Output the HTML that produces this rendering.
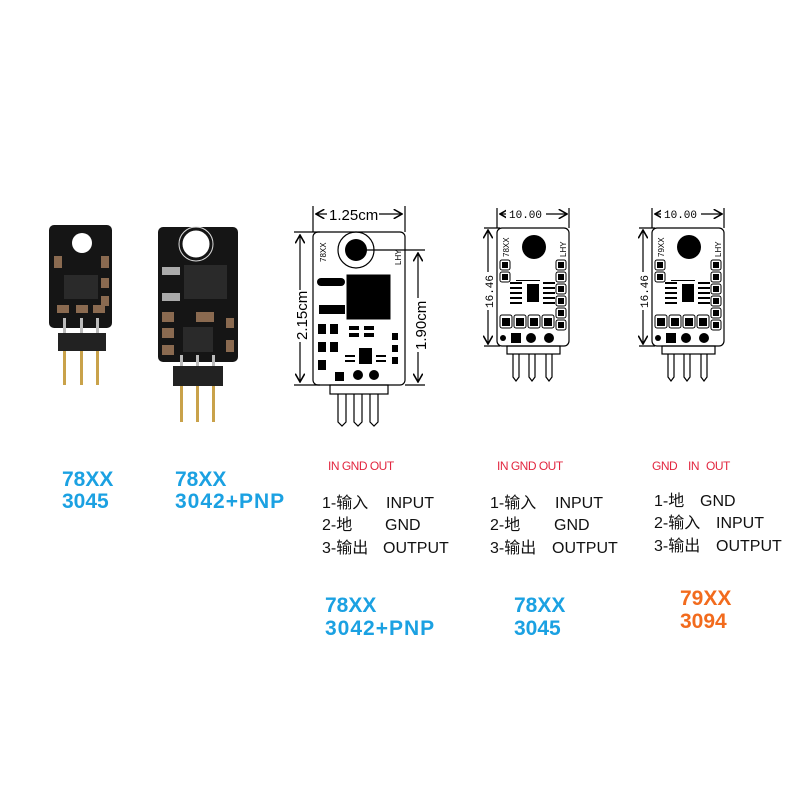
<!DOCTYPE html>
<html><head><style>
html,body{margin:0;padding:0;background:#fff;}
svg{display:block;}
.b{font-family:"Liberation Sans",sans-serif;font-weight:bold;fill:#1ba1e2;font-size:21px;}
.o{font-family:"Liberation Sans",sans-serif;font-weight:bold;fill:#f26b1d;font-size:21px;}
.r{font-family:"Liberation Sans",sans-serif;fill:#e2263f;font-size:12px;letter-spacing:-0.5px;}
.t{font-family:"Liberation Sans","Noto Sans CJK SC",sans-serif;fill:#111;font-size:16px;}
.d{font-family:"Liberation Sans",sans-serif;fill:#000;}
.m{font-family:"Liberation Mono",monospace;fill:#000;}
</style></head><body>
<svg width="800" height="800" viewBox="0 0 800 800" xmlns="http://www.w3.org/2000/svg">
<defs>
<marker id="a" markerWidth="8" markerHeight="8" refX="7" refY="4" orient="auto-start-reverse"><path d="M0,0 L7,4 L0,8" fill="none" stroke="#000" stroke-width="1.3"/></marker>
<g id="sm">
<g stroke="#000" fill="none" stroke-width="1.2">
<rect x="497" y="228" width="72" height="118" rx="5"/>
<rect x="507" y="346" width="53" height="8"/>
<path d="M513,354 v23 l3,4 l3,-4 v-23 M529,354 v23 l3,4 l3,-4 v-23 M546,354 v23 l3,4 l3,-4 v-23"/>
<path d="M497,228 V208 M569,228 V208 M484,228 H500 M484,346 H500"/>
<path d="M500,214 H567" marker-start="url(#a)" marker-end="url(#a)"/>
<path d="M488,230 V344" marker-start="url(#a)" marker-end="url(#a)"/>
<g stroke-width="1"><rect x="500" y="260" width="10" height="10" rx="2"/><rect x="500" y="272" width="10" height="10" rx="2"/><rect x="556" y="260" width="10" height="10" rx="2"/><rect x="556" y="272" width="10" height="10" rx="2"/><rect x="556" y="284" width="10" height="10" rx="2"/><rect x="556" y="296" width="10" height="10" rx="2"/><rect x="556" y="308" width="10" height="10" rx="2"/><rect x="556" y="320" width="10" height="10" rx="2"/><rect x="500" y="315" width="12" height="13" rx="2"/><rect x="514" y="315" width="12" height="13" rx="2"/><rect x="528" y="315" width="12" height="13" rx="2"/><rect x="542" y="315" width="12" height="13" rx="2"/></g>
</g>
<g fill="#000"><circle cx="534" cy="247" r="12"/><rect x="527" y="284" width="12" height="18"/>
<rect x="502" y="262" width="6" height="6"/><rect x="502" y="274" width="6" height="6"/><rect x="558" y="262" width="6" height="6"/><rect x="558" y="274" width="6" height="6"/><rect x="558" y="286" width="6" height="6"/><rect x="558" y="298" width="6" height="6"/><rect x="558" y="310" width="6" height="6"/><rect x="558" y="322" width="6" height="6"/>
<rect x="502" y="318" width="8" height="8"/><rect x="516" y="318" width="8" height="8"/><rect x="530" y="318" width="8" height="8"/><rect x="544" y="318" width="8" height="8"/>
<rect x="510" y="282" width="12" height="2"/><rect x="510" y="287" width="12" height="2"/><rect x="510" y="292" width="12" height="2"/><rect x="510" y="297" width="12" height="2"/><rect x="510" y="302" width="12" height="2"/>
<rect x="543" y="282" width="12" height="2"/><rect x="543" y="287" width="12" height="2"/><rect x="543" y="292" width="12" height="2"/><rect x="543" y="297" width="12" height="2"/><rect x="543" y="302" width="12" height="2"/>
<rect x="516" y="280" width="24" height="1"/>
<circle cx="503" cy="338" r="3"/><rect x="511" y="333" width="10" height="10"/><circle cx="531" cy="338" r="5"/><circle cx="549" cy="338" r="5"/></g>
<rect x="506" y="208" width="40" height="12" fill="#fff"/>
<text class="m" x="509" y="218" font-size="11">10.00</text>
<rect x="482" y="272" width="12" height="38" fill="#fff"/>
<text class="m" font-size="11" transform="translate(493,308) rotate(-90)">16.46</text>
<text class="d" font-size="8" transform="translate(566,257) rotate(-90)">LHY</text>
</g>
</defs>
<!-- PCB 1 black -->
<g>
<rect x="49" y="225" width="63" height="103" rx="5" fill="#151515"/>
<circle cx="82" cy="243" r="10" fill="#fff"/>
<rect x="64" y="275" width="34" height="24" fill="#2a2a2a"/>
<g fill="#8a6a50"><rect x="54" y="256" width="8" height="12"/><rect x="101" y="256" width="8" height="12"/><rect x="101" y="278" width="8" height="10"/><rect x="101" y="296" width="8" height="10"/><rect x="57" y="305" width="12" height="8"/><rect x="76" y="305" width="12" height="8"/><rect x="93" y="305" width="12" height="8"/></g>
<rect x="58" y="333" width="48" height="18" fill="#222"/>
<g fill="#c9a24a"><rect x="63" y="351" width="3" height="34"/><rect x="80" y="351" width="3" height="34"/><rect x="96" y="351" width="3" height="34"/></g>
<g fill="#bbb"><rect x="63" y="318" width="3" height="15"/><rect x="80" y="318" width="3" height="15"/><rect x="96" y="318" width="3" height="15"/></g>
</g>
<!-- PCB 2 black -->
<g>
<rect x="158" y="227" width="80" height="135" rx="5" fill="#151515"/>
<circle cx="196" cy="244" r="15" fill="#fff" stroke="#151515" stroke-width="3"/>
<circle cx="196" cy="244" r="17" fill="none" stroke="#ddd" stroke-width="1"/>
<rect x="184" y="265" width="43" height="34" fill="#2a2a2a"/>
<rect x="162" y="267" width="18" height="8" fill="#aaa"/><rect x="162" y="293" width="18" height="8" fill="#aaa"/>
<rect x="196" y="312" width="18" height="10" fill="#8a6a50"/>
<rect x="183" y="327" width="30" height="25" fill="#2a2a2a"/>
<g fill="#8a6a50"><rect x="162" y="312" width="12" height="10"/><rect x="162" y="328" width="12" height="10"/><rect x="162" y="345" width="12" height="10"/><rect x="226" y="318" width="8" height="10"/><rect x="226" y="340" width="8" height="12"/></g>
<rect x="173" y="366" width="50" height="20" fill="#222"/>
<g fill="#c9a24a"><rect x="180" y="386" width="3" height="36"/><rect x="196" y="386" width="3" height="36"/><rect x="212" y="386" width="3" height="36"/></g>
<g fill="#bbb"><rect x="180" y="355" width="3" height="11"/><rect x="196" y="355" width="3" height="11"/><rect x="212" y="355" width="3" height="11"/></g>
</g>
<!-- drawing 3 -->
<g stroke="#000" fill="none" stroke-width="1.2">
<rect x="313" y="232" width="92" height="153" rx="5"/>
<circle cx="356" cy="250" r="18"/>
<rect x="330" y="385" width="58" height="9"/>
<path d="M338,394 v28 l4,4 l4,-4 v-28 M354,394 v28 l4,4 l4,-4 v-28 M370,394 v28 l4,4 l4,-4 v-28"/>
<path d="M313,232 V206 M405,232 V206"/>
<path d="M316,214 H402" marker-start="url(#a)" marker-end="url(#a)"/>
<path d="M294,232 H320 M294,385 H320"/>
<path d="M300,235 V382" marker-start="url(#a)" marker-end="url(#a)"/>
<path d="M356,250 H425 M405,385 H425"/>
<path d="M418,253 V382" marker-start="url(#a)" marker-end="url(#a)"/>
</g>
<circle cx="356" cy="250" r="11" fill="#000"/>
<rect x="347" y="275" width="43" height="44" fill="#000" stroke="#000"/>
<rect x="317" y="278" width="28" height="8" rx="4" fill="#000"/>
<rect x="319" y="305" width="26" height="9" fill="#000"/>
<g fill="#000"><rect x="318" y="324" width="8" height="10"/><rect x="330" y="324" width="8" height="10"/><rect x="318" y="342" width="8" height="10"/><rect x="330" y="342" width="8" height="10"/><rect x="318" y="360" width="8" height="10"/><rect x="335" y="372" width="9" height="9"/><rect x="359" y="348" width="13" height="16"/><rect x="349" y="326" width="10" height="4"/><rect x="364" y="326" width="10" height="4"/><rect x="349" y="333" width="10" height="4"/><rect x="364" y="333" width="10" height="4"/><rect x="392" y="333" width="6" height="7"/><rect x="392" y="345" width="6" height="7"/><rect x="392" y="357" width="6" height="7"/><rect x="345" y="355" width="10" height="2"/><rect x="345" y="360" width="10" height="2"/><rect x="376" y="355" width="10" height="2"/><rect x="376" y="360" width="10" height="2"/></g>
<circle cx="358" cy="375" r="5" fill="#000"/><circle cx="374" cy="375" r="5" fill="#000"/>
<rect x="327" y="206" width="52" height="16" fill="#fff"/>
<text class="d" x="329" y="220" font-size="15">1.25cm</text>
<rect x="294" y="290" width="14" height="52" fill="#fff"/>
<text class="d" font-size="15" transform="translate(307,340) rotate(-90)">2.15cm</text>
<rect x="412" y="298" width="14" height="54" fill="#fff"/>
<text class="d" font-size="15" transform="translate(426,350) rotate(-90)">1.90cm</text>
<text class="d" font-size="8" transform="translate(326,262) rotate(-90)">78XX</text>
<text class="d" font-size="8" transform="translate(401,265) rotate(-90)">LHY</text>
<!-- drawing 4 & 5 -->
<use href="#sm"/>
<text class="d" font-size="8" transform="translate(509,257) rotate(-90)">78XX</text>
<use href="#sm" transform="translate(155,0)"/>
<text class="d" font-size="8" transform="translate(664,257) rotate(-90)">79XX</text>
<!-- labels -->
<text class="b" x="62" y="486">78XX</text>
<text class="b" x="62" y="508">3045</text>
<text class="b" x="175" y="486">78XX</text>
<text class="b" x="175" y="508" letter-spacing="1">3042+PNP</text>
<text class="r" x="328" y="470">IN GND OUT</text>
<text class="r" x="497" y="470">IN GND OUT</text>
<text class="r" x="652" y="470">GND</text><text class="r" x="688" y="470">IN</text><text class="r" x="706" y="470">OUT</text>
<text class="t" x="322" y="508">1-输入</text><text class="t" x="386" y="508">INPUT</text>
<text class="t" x="322" y="530">2-地</text><text class="t" x="385" y="530">GND</text>
<text class="t" x="322" y="553">3-输出</text><text class="t" x="383" y="553">OUTPUT</text>
<text class="t" x="490" y="508">1-输入</text><text class="t" x="555" y="508">INPUT</text>
<text class="t" x="490" y="530">2-地</text><text class="t" x="554" y="530">GND</text>
<text class="t" x="490" y="553">3-输出</text><text class="t" x="552" y="553">OUTPUT</text>
<text class="t" x="654" y="506">1-地</text><text class="t" x="700" y="506">GND</text>
<text class="t" x="654" y="528">2-输入</text><text class="t" x="716" y="528">INPUT</text>
<text class="t" x="654" y="551">3-输出</text><text class="t" x="716" y="551">OUTPUT</text>
<text class="b" x="325" y="612">78XX</text>
<text class="b" x="325" y="635" letter-spacing="1">3042+PNP</text>
<text class="b" x="514" y="612">78XX</text>
<text class="b" x="514" y="635">3045</text>
<text class="o" x="680" y="605">79XX</text>
<text class="o" x="680" y="628">3094</text>
</svg>
</body></html>
